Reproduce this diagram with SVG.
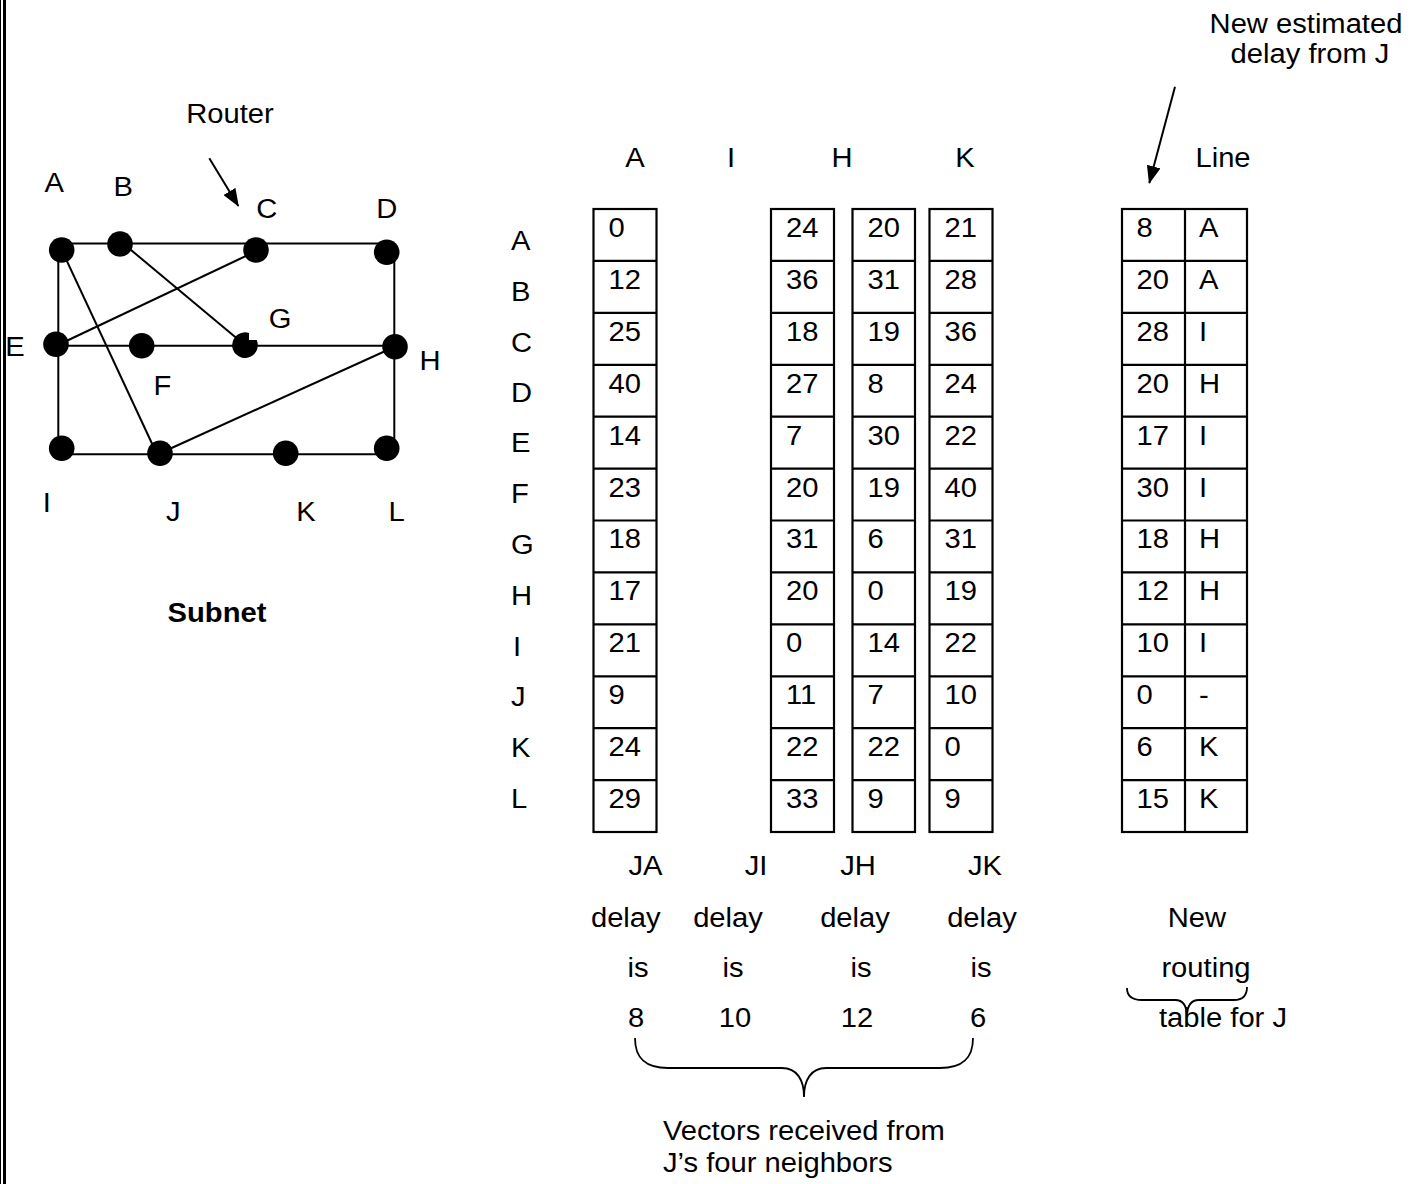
<svg xmlns="http://www.w3.org/2000/svg" width="1412" height="1184" viewBox="0 0 1412 1184">
<style>
text { font-family: "Liberation Sans", Arial, sans-serif; font-size: 27px; fill: #000; transform-box: fill-box; }
.s { transform-origin: left center; transform: scaleX(1.08); }
.m { text-anchor: middle; transform-origin: center; transform: scaleX(1.08); }
.b { font-weight: bold; }
.edge { stroke: #000; stroke-width: 2; fill: none; }
.cell { stroke: #000; stroke-width: 2.2; fill: none; }
.brace { stroke: #000; stroke-width: 1.8; fill: none; }
.node { fill: #000; }
</style>
<defs>
<marker id="ah" viewBox="0 0 18 14" refX="17" refY="7" markerWidth="18" markerHeight="14" markerUnits="userSpaceOnUse" orient="auto">
<path d="M0,0 L18,7 L0,14 Z" fill="#000"/>
</marker>
</defs>
<rect x="0" y="0" width="1412" height="1184" fill="#fff"/>
<!-- page border -->
<g id="border">
<line x1="0.5" y1="0" x2="0.5" y2="1184" stroke="#000" stroke-width="1"/>
<line x1="4.5" y1="0" x2="4.5" y2="1184" stroke="#000" stroke-width="3"/>
</g>

<!-- subnet connectors -->
<g id="connectors">
<line class="edge" x1="61.7" y1="243.5" x2="386.7" y2="243.5"/>
<line class="edge" x1="58.3" y1="250" x2="58.3" y2="448"/>
<line class="edge" x1="394.3" y1="252" x2="394.3" y2="448"/>
<line class="edge" x1="56" y1="345.7" x2="395" y2="345.7"/>
<line class="edge" x1="61.7" y1="454.3" x2="386.7" y2="454.3"/>
<line class="edge" x1="63.3" y1="253.3" x2="155" y2="450"/>
<line class="edge" x1="125" y1="245" x2="240" y2="341"/>
<line class="edge" x1="250" y1="254" x2="60" y2="344"/>
<line class="edge" x1="165" y1="451" x2="392" y2="348"/>
<line class="edge" x1="209.3" y1="158.3" x2="238.3" y2="206" marker-end="url(#ah)"/>
<line class="edge" x1="1175" y1="86.7" x2="1149.3" y2="183" marker-end="url(#ah)"/>
</g>

<!-- subnet nodes -->
<g id="node-A"><circle class="node" cx="61.7" cy="250" r="12.8"/><text class="m" x="54.3" y="192">A</text></g>
<g id="node-B"><circle class="node" cx="120" cy="244" r="12.8"/><text class="m" x="123.3" y="196.5">B</text></g>
<g id="node-C"><circle class="node" cx="256" cy="250" r="12.8"/><text class="m" x="266.7" y="218">C</text></g>
<g id="node-D"><circle class="node" cx="386.7" cy="252.3" r="12.8"/><text class="m" x="386.7" y="218">D</text></g>
<g id="node-E"><circle class="node" cx="56" cy="344.3" r="12.8"/><text class="m" x="15" y="356">E</text></g>
<g id="node-F"><circle class="node" cx="141.7" cy="345.7" r="12.8"/><text class="m" x="162.3" y="395">F</text></g>
<g id="node-G"><path class="node" d="M249,333 L249,340 L256.7,340 A12.8,12.8 0 1 1 249,333 Z"/><text class="m" x="280" y="328">G</text></g>
<g id="node-H"><circle class="node" cx="395" cy="346.7" r="12.8"/><text class="m" x="430" y="370">H</text></g>
<g id="node-I"><circle class="node" cx="61.7" cy="448.3" r="12.8"/><text class="m" x="46.8" y="512.5">I</text></g>
<g id="node-J"><circle class="node" cx="160" cy="453.3" r="12.8"/><text class="m" x="173.3" y="521.5">J</text></g>
<g id="node-K"><circle class="node" cx="285.7" cy="453.3" r="12.8"/><text class="m" x="306" y="521.5">K</text></g>
<g id="node-L"><circle class="node" cx="386.7" cy="448.3" r="12.8"/><text class="m" x="396.7" y="521.5">L</text></g>
<g id="router-label"><text class="m" x="230" y="123.3">Router</text></g>
<g id="subnet-label"><text class="m b" x="217" y="622">Subnet</text></g>

<!-- column headers -->
<g id="headers">
<text class="m" x="635" y="167">A</text>
<text class="m" x="731" y="167">I</text>
<text class="m" x="842" y="167">H</text>
<text class="m" x="965" y="167">K</text>
<text class="m" x="1223" y="167">Line</text>
<text class="m" x="1306" y="33">New estimated</text>
<text class="m" x="1310" y="63">delay from J</text>
</g>

<!-- row labels -->
<g id="row-labels">
<text class="s" x="511" y="250">A</text>
<text class="s" x="511" y="301">B</text>
<text class="s" x="511" y="352">C</text>
<text class="s" x="511" y="402">D</text>
<text class="s" x="511" y="452">E</text>
<text class="s" x="511" y="503">F</text>
<text class="s" x="511" y="554">G</text>
<text class="s" x="511" y="605">H</text>
<text class="s" x="513" y="656">I</text>
<text class="s" x="511" y="706">J</text>
<text class="s" x="511" y="757">K</text>
<text class="s" x="511" y="808">L</text>
</g>

<!-- vector from A -->
<g id="table-A">
<rect class="cell" x="593.5" y="209" width="63" height="623"/>
<path class="cell" d="M593.5,260.9H656.5M593.5,312.8H656.5M593.5,364.8H656.5M593.5,416.7H656.5M593.5,468.6H656.5M593.5,520.5H656.5M593.5,572.4H656.5M593.5,624.4H656.5M593.5,676.3H656.5M593.5,728.2H656.5M593.5,780.1H656.5"/>
<text class="s" x="608.5" y="237">0</text>
<text class="s" x="608.5" y="288.9">12</text>
<text class="s" x="608.5" y="340.8">25</text>
<text class="s" x="608.5" y="392.8">40</text>
<text class="s" x="608.5" y="444.7">14</text>
<text class="s" x="608.5" y="496.6">23</text>
<text class="s" x="608.5" y="548.5">18</text>
<text class="s" x="608.5" y="600.4">17</text>
<text class="s" x="608.5" y="652.4">21</text>
<text class="s" x="608.5" y="704.3">9</text>
<text class="s" x="608.5" y="756.2">24</text>
<text class="s" x="608.5" y="808.1">29</text>
</g>

<!-- vector from I -->
<g id="table-I">
<rect class="cell" x="771" y="209" width="63" height="623"/>
<path class="cell" d="M771,260.9H834M771,312.8H834M771,364.8H834M771,416.7H834M771,468.6H834M771,520.5H834M771,572.4H834M771,624.4H834M771,676.3H834M771,728.2H834M771,780.1H834"/>
<text class="s" x="786" y="237">24</text>
<text class="s" x="786" y="288.9">36</text>
<text class="s" x="786" y="340.8">18</text>
<text class="s" x="786" y="392.8">27</text>
<text class="s" x="786" y="444.7">7</text>
<text class="s" x="786" y="496.6">20</text>
<text class="s" x="786" y="548.5">31</text>
<text class="s" x="786" y="600.4">20</text>
<text class="s" x="786" y="652.4">0</text>
<text class="s" x="786" y="704.3">11</text>
<text class="s" x="786" y="756.2">22</text>
<text class="s" x="786" y="808.1">33</text>
</g>

<!-- vector from H -->
<g id="table-H">
<rect class="cell" x="852.5" y="209" width="62.5" height="623"/>
<path class="cell" d="M852.5,260.9H915M852.5,312.8H915M852.5,364.8H915M852.5,416.7H915M852.5,468.6H915M852.5,520.5H915M852.5,572.4H915M852.5,624.4H915M852.5,676.3H915M852.5,728.2H915M852.5,780.1H915"/>
<text class="s" x="867.5" y="237">20</text>
<text class="s" x="867.5" y="288.9">31</text>
<text class="s" x="867.5" y="340.8">19</text>
<text class="s" x="867.5" y="392.8">8</text>
<text class="s" x="867.5" y="444.7">30</text>
<text class="s" x="867.5" y="496.6">19</text>
<text class="s" x="867.5" y="548.5">6</text>
<text class="s" x="867.5" y="600.4">0</text>
<text class="s" x="867.5" y="652.4">14</text>
<text class="s" x="867.5" y="704.3">7</text>
<text class="s" x="867.5" y="756.2">22</text>
<text class="s" x="867.5" y="808.1">9</text>
</g>

<!-- vector from K -->
<g id="table-K">
<rect class="cell" x="929.5" y="209" width="63" height="623"/>
<path class="cell" d="M929.5,260.9H992.5M929.5,312.8H992.5M929.5,364.8H992.5M929.5,416.7H992.5M929.5,468.6H992.5M929.5,520.5H992.5M929.5,572.4H992.5M929.5,624.4H992.5M929.5,676.3H992.5M929.5,728.2H992.5M929.5,780.1H992.5"/>
<text class="s" x="944.5" y="237">21</text>
<text class="s" x="944.5" y="288.9">28</text>
<text class="s" x="944.5" y="340.8">36</text>
<text class="s" x="944.5" y="392.8">24</text>
<text class="s" x="944.5" y="444.7">22</text>
<text class="s" x="944.5" y="496.6">40</text>
<text class="s" x="944.5" y="548.5">31</text>
<text class="s" x="944.5" y="600.4">19</text>
<text class="s" x="944.5" y="652.4">22</text>
<text class="s" x="944.5" y="704.3">10</text>
<text class="s" x="944.5" y="756.2">0</text>
<text class="s" x="944.5" y="808.1">9</text>
</g>

<!-- new routing table for J -->
<g id="table-J">
<rect class="cell" x="1122" y="209" width="125" height="623"/>
<line class="cell" x1="1185" y1="209" x2="1185" y2="832"/>
<path class="cell" d="M1122,260.9H1247M1122,312.8H1247M1122,364.8H1247M1122,416.7H1247M1122,468.6H1247M1122,520.5H1247M1122,572.4H1247M1122,624.4H1247M1122,676.3H1247M1122,728.2H1247M1122,780.1H1247"/>
<text class="s" x="1136.5" y="237">8</text>
<text class="s" x="1136.5" y="288.9">20</text>
<text class="s" x="1136.5" y="340.8">28</text>
<text class="s" x="1136.5" y="392.8">20</text>
<text class="s" x="1136.5" y="444.7">17</text>
<text class="s" x="1136.5" y="496.6">30</text>
<text class="s" x="1136.5" y="548.5">18</text>
<text class="s" x="1136.5" y="600.4">12</text>
<text class="s" x="1136.5" y="652.4">10</text>
<text class="s" x="1136.5" y="704.3">0</text>
<text class="s" x="1136.5" y="756.2">6</text>
<text class="s" x="1136.5" y="808.1">15</text>
<text class="s" x="1199" y="237">A</text>
<text class="s" x="1199" y="288.9">A</text>
<text class="s" x="1199" y="340.8">I</text>
<text class="s" x="1199" y="392.8">H</text>
<text class="s" x="1199" y="444.7">I</text>
<text class="s" x="1199" y="496.6">I</text>
<text class="s" x="1199" y="548.5">H</text>
<text class="s" x="1199" y="600.4">H</text>
<text class="s" x="1199" y="652.4">I</text>
<text class="s" x="1199" y="704.3">-</text>
<text class="s" x="1199" y="756.2">K</text>
<text class="s" x="1199" y="808.1">K</text>
</g>

<!-- delay captions -->
<g id="delays">
<text class="m" x="645.5" y="875">JA</text>
<text class="m" x="756" y="875">JI</text>
<text class="m" x="858" y="875">JH</text>
<text class="m" x="985" y="875">JK</text>
<text class="m" x="625.8" y="926.7">delay</text>
<text class="m" x="728" y="926.7">delay</text>
<text class="m" x="855" y="926.7">delay</text>
<text class="m" x="982" y="926.7">delay</text>
<text class="m" x="638" y="976.7">is</text>
<text class="m" x="733" y="976.7">is</text>
<text class="m" x="861" y="976.7">is</text>
<text class="m" x="981" y="976.7">is</text>
<text class="m" x="636" y="1026.7">8</text>
<text class="m" x="735" y="1026.7">10</text>
<text class="m" x="857" y="1026.7">12</text>
<text class="m" x="978" y="1026.7">6</text>
</g>

<g id="vectors-brace">
<path class="brace" d="M635,1038 C635,1058 645,1068 668,1068 L782,1068 C797,1068 804,1080 804,1097 C804,1080 811,1068 826,1068 L940,1068 C963,1068 973,1058 973,1038"/>
<text class="s" x="663" y="1140">Vectors received from</text>
<text class="s" x="663" y="1172">J’s four neighbors</text>
</g>

<g id="routing-brace">
<text class="m" x="1197" y="926.7">New</text>
<text class="m" x="1206" y="976.7">routing</text>
<text class="m" x="1223" y="1026.7">table for J</text>
<path class="brace" d="M1127,988 C1127,996 1132,1000 1142,1000 L1175,1000 C1183,1000 1187,1006 1187,1017 C1187,1006 1191,1000 1199,1000 L1234,1000 C1243,1000 1247,995 1247,987"/>
</g>
</svg>
